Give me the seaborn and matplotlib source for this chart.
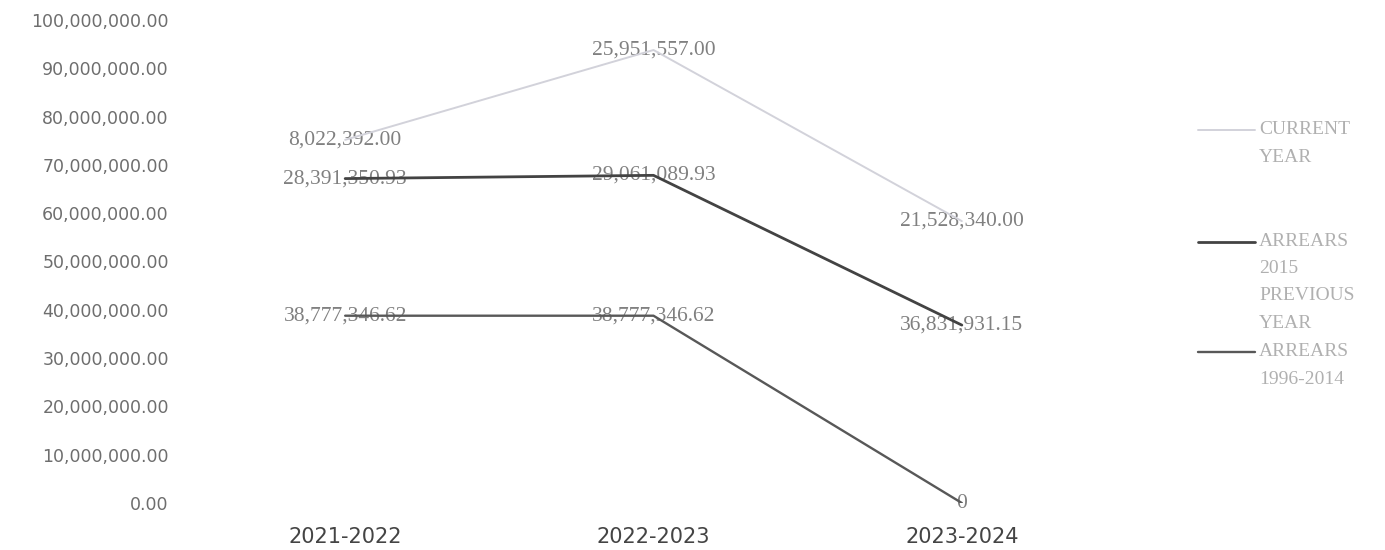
import numpy as np
import pandas as pd
import matplotlib
matplotlib.use("Agg")
import matplotlib.pyplot as plt
import seaborn as sns
from matplotlib.lines import Line2D
from matplotlib.ticker import FuncFormatter

# ---- data ----
categories = ["2021-2022", "2022-2023", "2023-2024"]
series_names = ["ARREARS 1996-2014", "ARREARS 2015 PREVIOUS YEAR", "CURRENT YEAR"]
arrears_1996_2014 = [38777346.62, 38777346.62, 0.0]
arrears_2015_previous_year = [28391350.93, 29061089.93, 36831931.15]
current_year = [8022392.00, 25951557.00, 21528340.00]
legend_labels = ["CURRENT\nYEAR", "ARREARS\n2015\nPREVIOUS\nYEAR", "ARREARS\n1996-2014"]
y_ticks = np.arange(0, 100_000_001, 10_000_000)

# ---- styles ----
colors = {"ARREARS 1996-2014": "#585858",
          "ARREARS 2015 PREVIOUS YEAR": "#434343",
          "CURRENT YEAR": "#d2d2da"}
widths = {"ARREARS 1996-2014": 1.7,
          "ARREARS 2015 PREVIOUS YEAR": 2.0,
          "CURRENT YEAR": 1.4}

sns.set_theme(style="white")
plt.rcParams["font.family"] = ["DejaVu Sans"]

values = np.array([arrears_1996_2014, arrears_2015_previous_year, current_year])
stacked = np.cumsum(values, axis=0)

rows = []
for k, name in enumerate(series_names):
    for i, cat in enumerate(categories):
        rows.append({"category": cat, "series": name,
                     "value": values[k][i], "stacked": stacked[k][i]})
df = pd.DataFrame(rows)

W, H = 1385, 550
fig = plt.figure(figsize=(W / 100, H / 100), dpi=100)
ax = fig.add_axes([191 / W, 47 / H, 925 / W, 483 / H])

for name in series_names:
    sub = df[df["series"] == name]
    sns.lineplot(data=sub, x="category", y="stacked", ax=ax, sort=False,
                 color=colors[name], linewidth=widths[name], legend=False,
                 zorder=3)

for _, r in df.iterrows():
    v = r["value"]
    txt = f"{v:,.2f}" if v != 0 else "0"
    ax.text(categories.index(r["category"]), r["stacked"], txt,
            ha="center", va="center", family="Liberation Serif",
            fontsize=15.5, color="#808080", zorder=1)

ax.set_xlim(-0.5, 2.5)
ax.set_ylim(0, 100_000_000)
ax.set_yticks(y_ticks)
ax.yaxis.set_major_formatter(FuncFormatter(lambda v, p: f"{v:,.2f}"))
ax.tick_params(axis="y", length=0, pad=16, labelsize=12.5, labelcolor="#6e6e6e")
ax.tick_params(axis="x", length=0, pad=17, labelsize=15, labelcolor="#444444")
ax.set_xlabel("")
ax.set_ylabel("")
for s in ax.spines.values():
    s.set_visible(False)
ax.grid(False)

# ---- legend (manual, handle aligned with first text line) ----
legend_series = ["CURRENT YEAR", "ARREARS 2015 PREVIOUS YEAR", "ARREARS 1996-2014"]
legend_tops = [130, 242, 352]
line_step = 27
for name, lab, ytop in zip(legend_series, legend_labels, legend_tops):
    fy = 1 - ytop / H
    fig.add_artist(Line2D([1198 / W, 1255 / W], [fy, fy], transform=fig.transFigure,
                          color=colors[name], linewidth=widths[name]))
    for j, line in enumerate(lab.split("\n")):
        fig.text(1259 / W, 1 - (ytop + j * line_step) / H, line,
                 ha="left", va="center", family="Liberation Serif",
                 fontsize=14, color="#b0b0b0")

fig.savefig("out.png", dpi=100, facecolor="white")
